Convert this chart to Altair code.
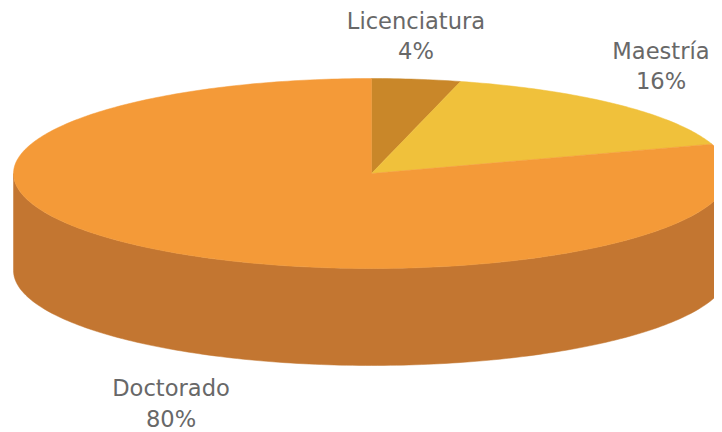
import numpy as np
import pandas as pd
import altair as alt

categories = ["Licenciatura", "Maestría", "Doctorado"]
shares = [4, 16, 80]
percent_labels = ["4%", "16%", "80%"]
top_colors = ["#C98729", "#F0C13B", "#F49A38"]
side_color = "#C37631"

# Pie geometry, in the reference's pixel frame
CX, CY, RX, RY, DEPTH = 371.5, 173.5, 358.0, 95.0, 97.0
W, H = 706, 424


def ellipse_point(turn, dy=0.0):
    a = 2 * np.pi * turn
    return CX + RX * np.sin(a), CY - RY * np.cos(a) + dy


rows = []
start = 0.0
total = sum(shares)
for cat, share in zip(categories, shares):
    end = start + share / total
    pts = [(CX, CY)]
    n = max(int(share * 4), 8)
    for i in range(n + 1):
        pts.append(ellipse_point(start + (end - start) * i / n))
    pts.append((CX, CY))
    for k, (x, y) in enumerate(pts):
        rows.append({"slice": cat, "x": x, "y": y, "k": k})
    start = end
top_df = pd.DataFrame(rows)

# Visible side wall: the front half of the rim, extruded downward
turns = np.linspace(0.25, 0.75, 181)
side_pts = [ellipse_point(t) for t in turns] + [ellipse_point(t, DEPTH) for t in turns[::-1]]
side_df = pd.DataFrame(
    [{"x": x, "y": y, "k": k} for k, (x, y) in enumerate(side_pts)]
)

xs = alt.Scale(domain=[8, 8 + W], range=[0, W], nice=False, zero=False)
ys = alt.Scale(domain=[8, 8 + H], range=[0, H], nice=False, zero=False)
X = alt.X("x:Q", scale=xs, axis=None)
Y = alt.Y("y:Q", scale=ys, axis=None)

side = alt.Chart(side_df).mark_line(fill=side_color, stroke=side_color, strokeWidth=0.5).encode(
    x=X, y=Y, order="k:Q"
)

layers = [side]
for cat, col in zip(categories, top_colors):
    layers.append(
        alt.Chart(top_df[top_df["slice"] == cat])
        .mark_line(fill=col, stroke=col, strokeWidth=0.5)
        .encode(x=X, y=Y, order="k:Q")
    )

label_x = [416, 661, 171]
label_y1 = [22, 52, 389]
label_y2 = [52, 82, 420]
lab_df = pd.DataFrame({
    "name": categories, "pct": percent_labels,
    "x": label_x, "y1": label_y1, "y2": label_y2,
})
name_text = alt.Chart(lab_df).mark_text(
    font="DejaVu Sans", fontSize=22.6, color="#686868", align="center", baseline="middle"
).encode(x=X, y=alt.Y("y1:Q", scale=ys, axis=None), text="name:N")
pct_text = alt.Chart(lab_df).mark_text(
    font="DejaVu Sans", fontSize=22.6, color="#686868", align="center", baseline="middle"
).encode(x=X, y=alt.Y("y2:Q", scale=ys, axis=None), text="pct:N")
layers += [name_text, pct_text]

chart = alt.layer(*layers).properties(
    width=W, height=H, padding=0, autosize=alt.AutoSizeParams(type="none"),
    background="white",
).configure_view(stroke=None)

chart.save("out.html", embed_options={"renderer": "svg", "actions": False})
